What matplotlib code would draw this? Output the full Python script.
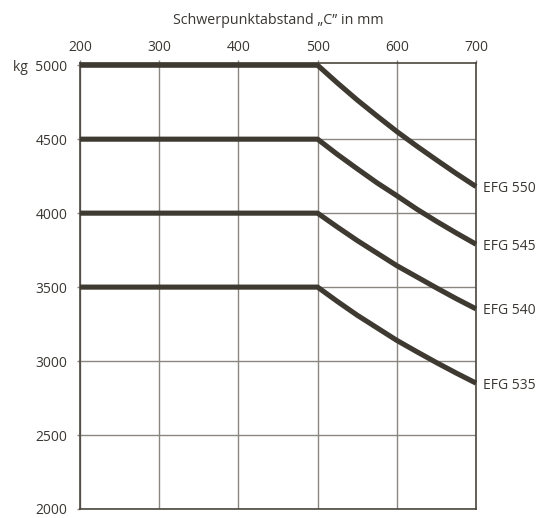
import matplotlib
matplotlib.use("Agg")
import matplotlib.pyplot as plt

# Data
x_pos = [200, 500, 525, 550, 575, 600, 625, 650, 675, 700]
efg_550 = [5000, 5000, 4880, 4765, 4657, 4552, 4454, 4360, 4268, 4180]
efg_545 = [4500, 4500, 4397, 4300, 4205, 4118, 4028, 3945, 3866, 3790]
efg_540 = [4000, 4000, 3906, 3815, 3730, 3645, 3570, 3495, 3422, 3353]
efg_535 = [3500, 3500, 3403, 3310, 3225, 3140, 3064, 2990, 2919, 2851]
series_labels = ["EFG 550", "EFG 545", "EFG 540", "EFG 535"]
x_ticks = [200, 300, 400, 500, 600, 700]
y_ticks = [2000, 2500, 3000, 3500, 4000, 4500, 5000]
y_ticklabels = ["2000", "2500", "3000", "3500", "4000", "4500", "kg  5000"]
x_title = "Schwerpunktabstand \u201eC\u201d in mm"

plt.rcParams['font.family'] = ['Open Sans', 'DejaVu Sans']
text_color = "#3a3733"
line_color = "#3e3a31"
grid_color = "#8a8680"
border_color = "#4a463e"

fig = plt.figure(figsize=(5.47, 5.18), dpi=100)
ax = fig.add_axes([80/547, 1 - 509/518, (476 - 80)/547, (509 - 63)/518])

ax.set_xlim(200, 700)
ax.set_ylim(2000, 5015)

for ys in [efg_550, efg_545, efg_540, efg_535]:
    ax.plot(x_pos, ys, color=line_color, lw=3.7, solid_capstyle='butt',
            solid_joinstyle='round', clip_on=False, zorder=3)

for ys, lab in zip([efg_550, efg_545, efg_540, efg_535], series_labels):
    ax.annotate(lab, xy=(x_pos[-1], ys[-1]), xytext=(5, -1.5), textcoords='offset points',
                ha='left', va='center', fontsize=10, color=text_color, annotation_clip=False)

ax.set_xticks(x_ticks)
ax.set_yticks(y_ticks)
ax.set_yticklabels(y_ticklabels)
ax.xaxis.tick_top()
ax.xaxis.set_label_position('top')
ax.tick_params(axis='x', which='both', top=True, bottom=False, length=2, width=1,
               color=grid_color, labelsize=10, labelcolor=text_color, pad=4)
ax.tick_params(axis='y', which='both', left=True, right=False, length=2, width=1,
               color=grid_color, labelsize=10, labelcolor=text_color, pad=7)
ax.set_xlabel(x_title, fontsize=10.3, color=text_color, labelpad=11)

ax.grid(True, color=grid_color, lw=1.0, zorder=1)
ax.set_axisbelow(True)
ax.get_ygridlines()[-1].set_visible(False)
for s in ax.spines.values():
    s.set_color(border_color)
    s.set_linewidth(1.2)

fig.savefig("out.png", dpi=100)
